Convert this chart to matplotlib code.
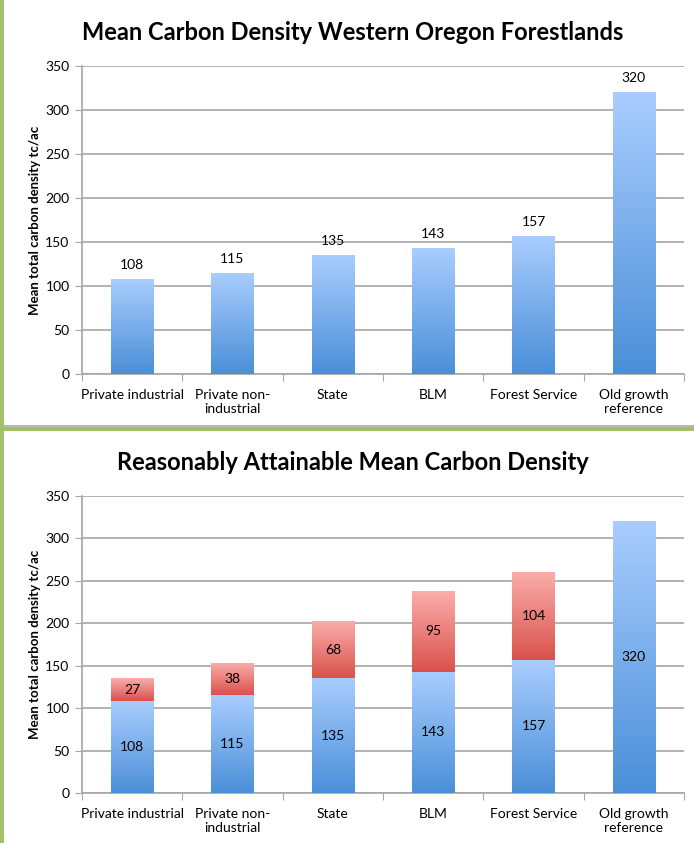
import numpy as np
import matplotlib
matplotlib.use('Agg')
from matplotlib import pyplot as plt
from matplotlib.patches import Rectangle
from matplotlib.colors import LinearSegmentedColormap

plt.rcParams['font.family'] = ['Lato', 'DejaVu Sans']

categories = ['Private industrial', 'Private non-\nindustrial', 'State', 'BLM',
              'Forest Service', 'Old growth\nreference']
current = [108, 115, 135, 143, 157, 320]
attainable_gain = [27, 38, 68, 95, 104, 0]

blue_map = LinearSegmentedColormap.from_list('blue', ['#4A8FD8', '#A9CDFE'])
red_map = LinearSegmentedColormap.from_list('red', ['#D9524C', '#FBAEAB'])

W, H = 694, 843
fig = plt.figure(figsize=(W / 100, H / 100), dpi=100)
fig.patch.set_facecolor('white')

# green frame like the pasted slide panels
green = '#A2BF6A'
fig.patches.append(Rectangle((0, 0), 4 / W, 1, transform=fig.transFigure,
                             facecolor=green, edgecolor='none', zorder=0))
fig.patches.append(Rectangle((0, 1 - 431 / H), 1, 5 / H, transform=fig.transFigure,
                             facecolor=green, edgecolor='none', zorder=0))
fig.patches.append(Rectangle((4 / W, 1 - 427 / H), 1, 2 / H, transform=fig.transFigure,
                             facecolor='#B8B8B8', edgecolor='none', zorder=1))


def gradient_bars(ax, bars, cmap):
    grad = np.linspace(0, 1, 256).reshape(-1, 1)
    for b in bars:
        x, y = b.get_x(), b.get_y()
        w, h = b.get_width(), b.get_height()
        if h <= 0:
            continue
        b.set_facecolor('none')
        b.set_edgecolor('none')
        im = ax.imshow(grad, cmap=cmap, origin='lower', aspect='auto',
                       extent=(x, x + w, y, y + h), zorder=3)
        im.set_clip_path(b)


def style_axes(ax, title, title_y):
    ax.set_xlim(-0.5, len(categories) - 0.5)
    ax.set_ylim(0, 350)
    ax.set_yticks(np.arange(0, 351, 50))
    ax.yaxis.grid(True, color='#A6A6A6', linewidth=1.2, zorder=0)
    ax.set_axisbelow(True)
    for s in ['top', 'right']:
        ax.spines[s].set_visible(False)
    for s in ['left', 'bottom']:
        ax.spines[s].set_color('#A6A6A6')
        ax.spines[s].set_linewidth(1.2)
    ax.tick_params(axis='y', length=5, color='#A6A6A6', labelsize=10, pad=4)
    ax.set_xticks(np.arange(len(categories) + 1) - 0.5)
    ax.set_xticklabels([])
    ax.set_xticks(np.arange(len(categories)), minor=True)
    ax.set_xticklabels(categories, minor=True, fontsize=10, linespacing=1.15)
    ax.tick_params(axis='x', which='major', length=5, color='#A6A6A6')
    ax.tick_params(axis='x', which='minor', length=0, pad=11)
    ax.set_ylabel('Mean total carbon density tc/ac', fontsize=9.5,
                  fontweight='bold', labelpad=3)
    fig.text(353 / W, 1 - title_y / H, title, fontsize=17, fontweight='bold',
             ha='center', va='center')


x = np.arange(len(categories))
bw = 0.42

ax1 = fig.add_axes([82 / W, 1 - 374 / H, 602 / W, 308 / H])
bars = ax1.bar(x, current, width=bw, zorder=3)
gradient_bars(ax1, bars, blue_map)
for xi, v in zip(x, current):
    ax1.text(xi, v + 9, str(v), ha='center', va='bottom', fontsize=10)
style_axes(ax1, 'Mean Carbon Density Western Oregon Forestlands', 33)

ax2 = fig.add_axes([82 / W, 1 - 793 / H, 602 / W, 297 / H])
bars_b = ax2.bar(x, current, width=bw, zorder=3)
bars_r = ax2.bar(x, attainable_gain, width=bw, bottom=current, zorder=3)
gradient_bars(ax2, bars_b, blue_map)
gradient_bars(ax2, bars_r, red_map)
for xi, v, g in zip(x, current, attainable_gain):
    ax2.text(xi, v / 2, str(v), ha='center', va='center', fontsize=10, zorder=5)
    if g > 0:
        ax2.text(xi, v + g / 2, str(g), ha='center', va='center', fontsize=10, zorder=5)
style_axes(ax2, 'Reasonably Attainable Mean Carbon Density', 462)

fig.savefig('out.png', dpi=100)
